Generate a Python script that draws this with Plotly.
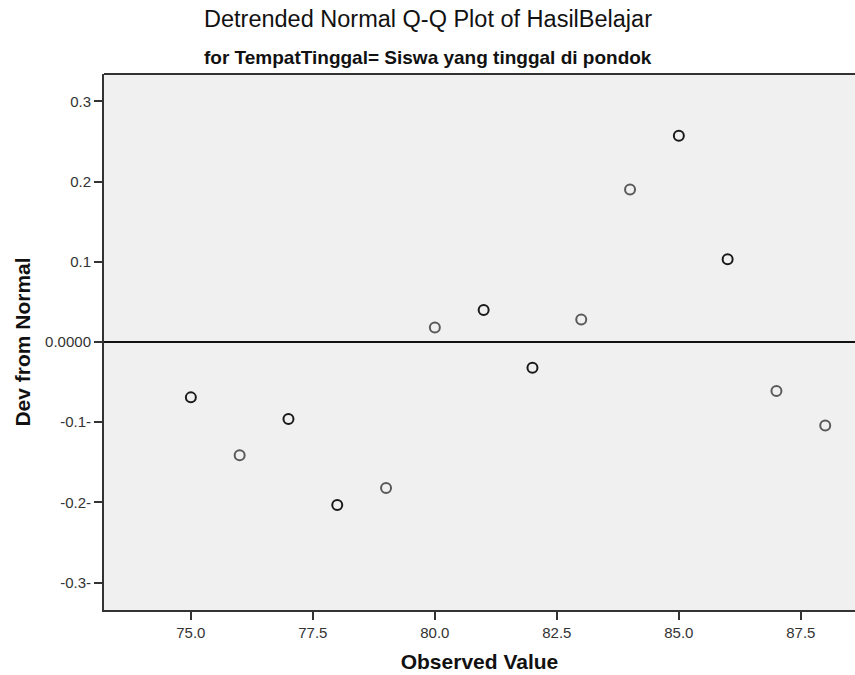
import plotly.graph_objects as go

# Observed values of HasilBelajar and their deviation from the normal line
observed = [75, 76, 77, 78, 79, 80, 81, 82, 83, 84, 85, 86, 87, 88]
deviation = [-0.069, -0.141, -0.096, -0.203, -0.182, 0.018, 0.040,
             -0.032, 0.028, 0.190, 0.257, 0.103, -0.061, -0.104]
# number of cases sharing each observed value (overlapping markers look darker)
frequency = [2, 1, 2, 2, 1, 1, 2, 2, 1, 1, 2, 2, 1, 1]

y_tick_vals = [-0.3, -0.2, -0.1, 0.0, 0.1, 0.2, 0.3]
y_tick_text = ["-0.3-", "-0.2-", "-0.1-", "0.0000", "0.1", "0.2", "0.3"]
x_tick_vals = [75.0, 77.5, 80.0, 82.5, 85.0, 87.5]
x_tick_text = ["75.0", "77.5", "80.0", "82.5", "85.0", "87.5"]

title_text = "Detrended Normal Q-Q Plot of HasilBelajar"
subtitle_text = "for TempatTinggal= Siswa yang tinggal di pondok"

FONT = "Liberation Sans, Arial, sans-serif"
marker_colors = ["#1a1a1a" if f > 1 else "#5a5a5a" for f in frequency]

fig = go.Figure()
fig.add_trace(go.Scatter(
    x=observed, y=deviation, mode="markers",
    marker=dict(symbol="circle-open", size=10, color=marker_colors,
                line=dict(width=2, color=marker_colors)),
    showlegend=False, hoverinfo="x+y",
))

# horizontal reference line at zero deviation
fig.add_shape(type="line", xref="paper", yref="y", x0=0, x1=1, y0=0, y1=0,
              line=dict(color="#111111", width=2))
# top frame line of the plot area
fig.add_shape(type="line", xref="paper", yref="paper", x0=0, x1=1, y0=1, y1=1,
              line=dict(color="#333333", width=2))

fig.update_layout(
    width=855, height=675,
    margin=dict(l=104, r=0, t=74, b=65),
    paper_bgcolor="white", plot_bgcolor="#f0f0f0",
    font=dict(family=FONT, color="#222222"),
    annotations=[
        dict(text=title_text, xref="paper", yref="paper", x=0.4314, y=1,
             xanchor="center", yanchor="middle", yshift=55, showarrow=False,
             font=dict(size=23.5, color="#111111", family=FONT)),
        dict(text="<b>" + subtitle_text + "</b>", xref="paper", yref="paper",
             x=0.4314, y=1, xanchor="center", yanchor="middle", yshift=17,
             showarrow=False, font=dict(size=19, color="#111111", family=FONT)),
    ],
)

fig.update_xaxes(
    range=[73.22, 88.61], tickvals=x_tick_vals, ticktext=x_tick_text,
    ticks="outside", ticklen=8, tickwidth=1.5, tickcolor="#333333",
    showline=True, linecolor="#333333", linewidth=2, showgrid=False,
    zeroline=False, tickfont=dict(size=15, color="#333333", family=FONT),
    title=dict(text="<b>Observed Value</b>", standoff=14,
               font=dict(size=21, color="#111111", family=FONT)),
)
fig.update_yaxes(
    range=[-0.334, 0.334], tickvals=y_tick_vals, ticktext=y_tick_text,
    ticks="outside", ticklen=8, tickwidth=1.5, tickcolor="#333333",
    showline=True, linecolor="#333333", linewidth=2, showgrid=False,
    zeroline=False, tickfont=dict(size=15, color="#333333", family=FONT),
    title=dict(text="<b>Dev from Normal</b>", standoff=9,
               font=dict(size=21, color="#111111", family=FONT)),
)

fig.write_html("out.html")
